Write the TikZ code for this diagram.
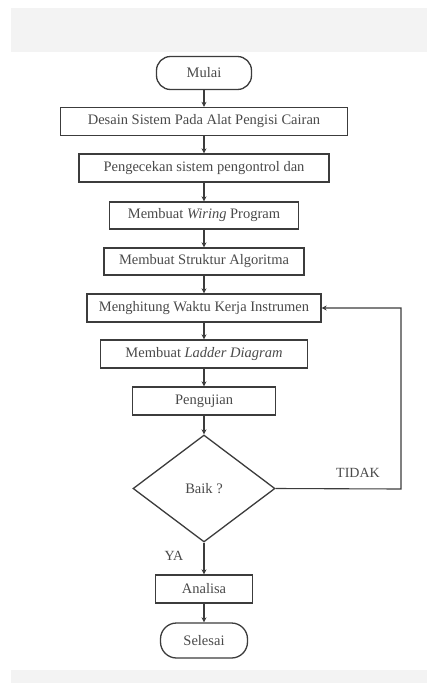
\documentclass[tikz,border=0pt]{standalone}
\usepackage{fontspec}
\setmainfont{Liberation Serif}
\usetikzlibrary{shapes.geometric,arrows.meta}
\definecolor{band}{HTML}{F3F3F3}
\definecolor{ink}{HTML}{3C3C3C}
\definecolor{txt}{HTML}{4A4A4A}
\begin{document}
\begin{tikzpicture}[x=1pt,y=-1pt,
  every node/.style={font=\fontsize{14.5}{16}\selectfont,text=txt},
  procbox/.style={draw=ink,line width=1.3pt,rectangle,inner sep=0pt,minimum height=28pt},
  termbox/.style={draw=ink,line width=1.3pt,rectangle,rounded corners=14pt,inner sep=0pt},
  decbox/.style={draw=ink,line width=1.3pt,diamond,inner sep=0pt,minimum width=142pt,minimum height=107pt},
  flow/.style={draw=ink,line width=1.1pt,-{Stealth[length=5pt,width=5pt]}},
  lbl/.style={font=\fontsize{14}{16}\selectfont}]
\useasboundingbox (0,0) rectangle (427,683);
\fill[white] (0,0) rectangle (427,683);
\fill[band] (11,8) rectangle (427,52);
\fill[band] (11,670) rectangle (427,683);

\node[termbox,minimum width=95pt,minimum height=33pt] (mulai) at (204,73) {Mulai};
\node[procbox,minimum width=287pt] (b1) at (204,121.5) {Desain Sistem Pada Alat Pengisi Cairan};
\node[procbox,minimum width=250pt] (b2) at (204,168) {Pengecekan sistem pengontrol dan};
\node[procbox,minimum width=189pt,minimum height=27pt] (b3) at (204,215.5) {Membuat \textit{Wiring} Program};
\node[procbox,minimum width=200pt,minimum height=27pt] (b4) at (204,261.5) {Membuat Struktur Algoritma};
\node[procbox,minimum width=234pt] (b5) at (204,308) {Menghitung Waktu Kerja Instrumen};
\node[procbox,minimum width=207pt] (b6) at (204,354) {Membuat \textit{Ladder Diagram}};
\node[procbox,minimum width=143pt] (b7) at (204,401) {Pengujian};
\node[decbox] (dec) at (204,488.5) {Baik ?};
\node[procbox,minimum width=97pt] (an) at (204,589) {Analisa};
\node[termbox,minimum width=87pt,minimum height=35pt,rounded corners=16pt] (sel) at (204,640.5) {Selesai};

\coordinate (rt) at (401,489);
\node[lbl] (tidak) at (358,473) {TIDAK};
\node[lbl] (ya) at (174,556) {YA};

\draw[flow] (mulai) -- (b1);
\draw[flow] (b1) -- (b2);
\draw[flow] (b2) -- (b3);
\draw[flow] (b3) -- (b4);
\draw[flow] (b4) -- (b5);
\draw[flow] (b5) -- (b6);
\draw[flow] (b6) -- (b7);
\draw[flow] (b7) -- (dec);
\draw[flow] (dec) -- (an);
\draw[flow] (an) -- (sel);
\draw[flow] (dec.east) -- (rt) |- (b5.east);
\end{tikzpicture}
\end{document}
